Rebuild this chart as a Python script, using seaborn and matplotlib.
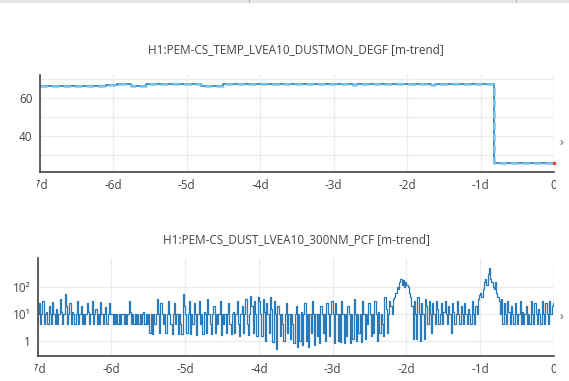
import numpy as np
import pandas as pd
import matplotlib
matplotlib.use("Agg")
import matplotlib.pyplot as plt
import seaborn as sns
from matplotlib.transforms import Bbox, TransformedBbox
from matplotlib.patches import Rectangle
from matplotlib.ticker import FixedLocator

# ---------------- data ----------------
title_top = "H1:PEM-CS_TEMP_LVEA10_DUSTMON_DEGF [m-trend]"
title_bottom = "H1:PEM-CS_DUST_LVEA10_300NM_PCF [m-trend]"

day_ticks = [-7, -6, -5, -4, -3, -2, -1, 0]
day_labels = ["-7d", "-6d", "-5d", "-4d", "-3d", "-2d", "-1d", "0"]

# temperature: step changes (day offset, level in degF)
temp_change_days = [-7.0, -6.1, -5.95, -5.85, -5.75, -5.55, -4.8, -4.5,
                    -2.74, -2.70, -1.68, -1.62, -0.82, 0.0]
temp_levels = [66.4, 66.8, 67.2, 67.4, 66.4, 67.4, 66.4, 67.4,
               66.6, 67.4, 66.6, 67.4, 25.5, 25.5]

# dust counts, one list per day (60 samples/day)
dust_d7 = [10, 25, 4, 10, 30, 4, 10, 12, 4, 20, 10, 4, 28, 10, 4, 15, 4, 10, 35, 12,
           4, 10, 55, 20, 4, 10, 25, 4, 12, 10, 4, 10, 30, 4, 10, 20, 4, 10, 4, 10,
           25, 12, 4, 10, 30, 4, 10, 15, 4, 10, 4, 28, 10, 4, 10, 18, 4, 10, 25, 10]
dust_d6 = [10, 4, 10, 4, 10, 4, 10, 4, 10, 10, 4, 10, 4, 10, 30, 12, 4, 10, 4, 10,
           4, 10, 4, 10, 4, 10, 12, 4, 10, 4, 10, 2, 10, 1.8, 10, 4, 10, 35, 10, 2,
           25, 10, 4, 10, 2, 10, 30, 10, 4, 1.8, 10, 25, 4, 10, 1.7, 10, 4, 1.8, 55, 20]
dust_d5 = [10, 2, 10, 30, 1.8, 10, 4, 25, 10, 1.6, 10, 30, 4, 10, 1.8, 12, 10, 2, 35, 10,
           4, 1.7, 10, 20, 2, 10, 4, 10, 30, 1.6, 10, 4, 10, 2, 10, 25, 4, 1.7, 10, 12,
           2, 10, 30, 4, 1.5, 10, 20, 2, 10, 35, 4, 1.6, 10, 45, 20, 2, 30, 10, 1.5, 40]
dust_d4 = [30, 10, 1.5, 35, 12, 1, 25, 10, 2, 40, 15, 0.9, 30, 10, 0.5, 20, 10, 1.5, 10, 4,
           1, 10, 25, 2, 10, 1.2, 10, 4, 0.8, 10, 20, 0.6, 10, 1, 12, 0.7, 10, 25, 1, 10,
           0.6, 10, 2, 30, 10, 0.7, 10, 1.5, 10, 0.8, 20, 10, 2, 10, 1, 25, 10, 1.5, 10, 30]
dust_d3 = [10, 0.8, 25, 10, 1, 10, 0.9, 30, 10, 0.8, 10, 1.5, 20, 10, 0.8, 10, 1.2, 35, 10, 1,
           10, 2, 10, 0.9, 30, 10, 1.2, 10, 4, 25, 10, 1.5, 10, 2, 30, 10, 1, 12, 2, 10,
           4, 1.5, 40, 15, 2, 10, 30, 20, 10, 35, 40, 60, 100, 80, 150, 200, 120, 180, 100, 150]
dust_d2 = [120, 100, 60, 40, 20, 1.2, 30, 10, 1.2, 40, 10, 1, 25, 10, 1.2, 35, 20, 4, 30, 10,
           2, 25, 10, 4, 30, 15, 4, 10, 25, 4, 12, 30, 10, 4, 20, 10, 2, 25, 12, 4,
           10, 30, 10, 4, 20, 10, 4, 25, 10, 4, 15, 10, 4, 30, 10, 4, 20, 10, 35, 50]
dust_d1 = [60, 40, 80, 150, 200, 120, 300, 500, 200, 150, 100, 80, 150, 60, 40, 30, 10, 35, 4, 25,
           10, 4, 30, 12, 4, 20, 10, 4, 25, 10, 4, 10, 30, 4, 12, 4, 10, 20, 4, 10,
           4, 30, 10, 4, 25, 10, 4, 15, 10, 4, 30, 10, 4, 25, 10, 4, 30, 10, 20, 25, 20]

dust = dust_d7 + dust_d6 + dust_d5 + dust_d4 + dust_d3 + dust_d2 + dust_d1
dust_days = np.linspace(-7, 0, len(dust))

temp_df = pd.DataFrame({"day": temp_change_days, "degF": temp_levels})
dust_df = pd.DataFrame({"day": dust_days, "pcf": dust})

# ---------------- figure ----------------
sns.set_theme(style="white")
plt.rcParams["font.family"] = ["Open Sans", "DejaVu Sans"]

W, H = 569, 381
fig = plt.figure(figsize=(W / 100, H / 100), dpi=100)
fig.patch.set_facecolor("white")

def px_axes(l, t, r, b):
    return fig.add_axes([l / W, 1 - b / H, (r - l) / W, (b - t) / H])

ax1 = px_axes(39.5, 75, 554, 172)
ax2 = px_axes(37.5, 258, 554, 356)

grid_c = "#ebebeb"
spine_c = "#444444"
tick_c = "#444444"

for ax in (ax1, ax2):
    ax.set_facecolor("white")
    ax.set_xlim(-7.0, 0.0)
    ax.set_xticks(day_ticks)
    ax.set_xticklabels(day_labels)
    ax.grid(True, which="major", axis="x", color=grid_c, lw=0.9)
    for s in ("top", "right"):
        ax.spines[s].set_visible(False)
    for s in ("left", "bottom"):
        ax.spines[s].set_color(spine_c)
        ax.spines[s].set_linewidth(1.2)
    ax.tick_params(axis="both", which="both", length=0, labelsize=8.5,
                   colors=tick_c, pad=5)
    ax.axvline(0, color=grid_c, lw=0.9, zorder=0)

# --- top: temperature
sns.lineplot(data=temp_df, x="day", y="degF", ax=ax1, color="#3a86c8", lw=1.3,
             drawstyle="steps-post", estimator=None, zorder=3)
ax1.plot(temp_df["day"], temp_df["degF"], drawstyle="steps-post", color="#78c6ea",
         lw=1.8, dashes=(3.0, 1.6), zorder=4)
ax1.plot(temp_df["day"].iloc[-1:], temp_df["degF"].iloc[-1:], "o", color="#e8453c",
         ms=1.6, zorder=5, clip_on=False)
ax1.set_ylim(21, 72)
ax1.yaxis.set_major_locator(FixedLocator([40, 60]))
ax1.yaxis.set_minor_locator(FixedLocator([30, 50, 70]))
ax1.grid(True, which="both", axis="y", color=grid_c, lw=0.9)
ax1.set_xlabel("")
ax1.set_ylabel("")

# --- bottom: dust
sns.lineplot(data=dust_df, x="day", y="pcf", ax=ax2, color="#2a7aba", lw=0.9,
             drawstyle="steps-post", estimator=None, zorder=3)
ax2.set_yscale("log")
ax2.set_ylim(0.27, 1150)
ax2.yaxis.set_major_locator(FixedLocator([1, 10, 100]))
ax2.yaxis.set_minor_locator(FixedLocator([]))
ax2.set_yticklabels(["1", "10¹", "10²"])
ax2.grid(True, which="major", axis="y", color=grid_c, lw=0.9)
ax2.set_xlabel("")
ax2.set_ylabel("")

for ax in (ax1, ax2):
    for sp in ax.spines.values():
        sp.set_zorder(6)

# clip x tick labels to axes horizontal extent (as in the screenshot)
fig.canvas.draw()
for ax in (ax1, ax2):
    clip = TransformedBbox(Bbox([[-0.005, -2], [1.003, 0.1]]), ax.transAxes)
    for lab in ax.get_xticklabels():
        lab.set_clip_box(clip)
        lab.set_clip_on(True)

# titles
fig.text(296 / W, 1 - 50 / H, title_top, ha="center", va="center",
         fontsize=8.5, color="#444444")
fig.text(296 / W, 1 - 240 / H, title_bottom, ha="center", va="center",
         fontsize=8.5, color="#444444")

# cropped legend glyphs at right edge
fig.text(560 / W, 1 - 142 / H, "›", ha="left", va="center", fontsize=9, color="#555555")
fig.text(560 / W, 1 - 316 / H, "›", ha="left", va="center", fontsize=9, color="#555555")

# browser chrome strip at top
fig.patches.append(Rectangle((0, 1 - 3 / H), 1, 3 / H, transform=fig.transFigure,
                             facecolor="#e6e6e6", edgecolor="none", zorder=10))
for xp in (249, 516):
    fig.patches.append(Rectangle((xp / W, 1 - 3 / H), 1 / W, 3 / H, transform=fig.transFigure,
                                 facecolor="#b5b5b5", edgecolor="none", zorder=11))

fig.savefig("out.png", dpi=100, facecolor="white")
